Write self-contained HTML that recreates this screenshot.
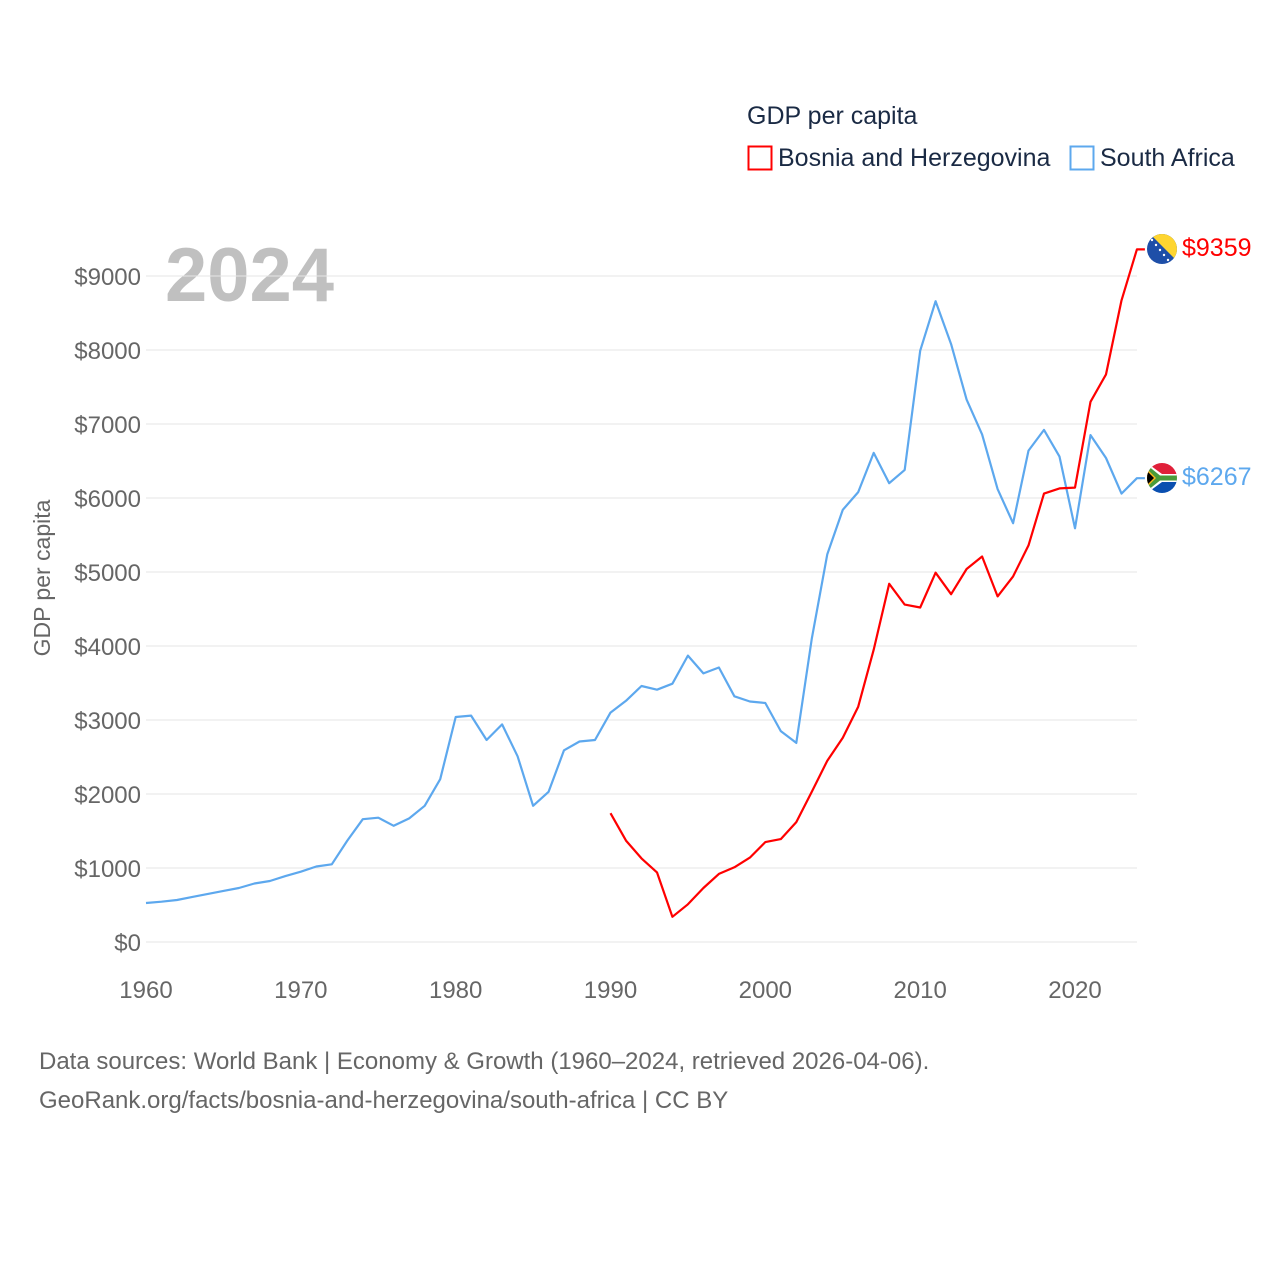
<!DOCTYPE html>
<html><head><meta charset="utf-8"><style>
body{margin:0;background:#fff;font-family:"Liberation Sans",sans-serif;}
svg text{font-family:"Liberation Sans",sans-serif;}
</style></head><body>
<svg id="chart" width="1280" height="1280" xmlns="http://www.w3.org/2000/svg">
<text x="747" y="124" font-size="25" fill="#1a2a44">GDP per capita</text>
<g><rect x="748.5" y="146.5" width="23" height="23" fill="none" stroke="#ff0000" stroke-width="2"/><text x="778" y="166" font-size="25" fill="#1a2a44">Bosnia and Herzegovina</text></g>
<g><rect x="1070.5" y="146.5" width="23" height="23" fill="none" stroke="#5da8ee" stroke-width="2"/><text x="1100" y="166" font-size="25" fill="#1a2a44">South Africa</text></g>
<text x="165" y="301" font-size="76" font-weight="bold" fill="#c0c0c0">2024</text>
<g id="grid"></g><g id="yticks"></g><g id="xticks"></g><g id="lines"></g>
<text transform="translate(50,578) rotate(-90)" text-anchor="middle" font-size="23" fill="#666">GDP per capita</text>
<g>
<clipPath id="cb"><circle cx="1162" cy="249" r="15"/></clipPath>
<g clip-path="url(#cb)"><rect x="1147" y="234" width="30" height="30" fill="#1e4fa8"/><polygon points="1150,234 1177,234 1177,261" fill="#fed530"/>
<circle cx="1152" cy="240" r="1.2" fill="#fff"/><circle cx="1156" cy="245" r="1.2" fill="#fff"/><circle cx="1160" cy="250" r="1.2" fill="#fff"/><circle cx="1164" cy="255" r="1.2" fill="#fff"/><circle cx="1168" cy="260" r="1.2" fill="#fff"/></g></g>
<text x="1182" y="256" font-size="25" fill="#ff0000">$9359</text>
<g>
<clipPath id="cs"><circle cx="1162" cy="478" r="15"/></clipPath>
<g clip-path="url(#cs)"><rect x="1147" y="463" width="30" height="15" fill="#e0203a"/><rect x="1147" y="478" width="30" height="15" fill="#0a4fb0"/>
<polygon points="1147,463 1162,474 1177,474 1177,482 1162,482 1147,493" fill="#fff"/><polygon points="1147,465 1160,475.5 1177,475.5 1177,480.5 1160,480.5 1147,491" fill="#4a9b3a"/>
<polygon points="1147,469 1156,478 1147,487" fill="#ffb81c"/><polygon points="1147,471 1154,478 1147,485" fill="#000"/></g></g>
<text x="1182" y="485" font-size="25" fill="#5da8ee">$6267</text>
<text x="39" y="1069" font-size="24" fill="#666">Data sources: World Bank | Economy &amp; Growth (1960–2024, retrieved 2026-04-06).</text>
<text x="39" y="1108" font-size="24" fill="#666">GeoRank.org/facts/bosnia-and-herzegovina/south-africa | CC BY</text>
</svg>
<script>
const years=[];for(let y=1960;y<=2024;y++)years.push(y);
const southAfrica=[527,545,567,610,650,690,730,790,825,890,950,1020,1050,1370,1660,1680,1570,1670,1840,2200,3040,3060,2730,2940,2510,1840,2030,2590,2710,2730,3100,3260,3460,3410,3490,3870,3630,3710,3320,3250,3230,2850,2690,4100,5240,5840,6080,6610,6200,6380,7990,8660,8080,7330,6860,6120,5660,6640,6920,6560,5590,6850,6540,6060,6267];
const bosniaYears=[];for(let y=1990;y<=2024;y++)bosniaYears.push(y);
const bosnia=[1740,1370,1130,940,340,510,730,920,1010,1140,1350,1390,1620,2030,2450,2760,3180,3950,4840,4560,4520,4990,4700,5040,5210,4670,4940,5360,6060,6130,6140,7300,7670,8670,9359];
const yTicks=[0,1000,2000,3000,4000,5000,6000,7000,8000,9000];
const xTicks=[1960,1970,1980,1990,2000,2010,2020];
const NS="http://www.w3.org/2000/svg";
const X=y=>146+(y-1960)*(1075-146)/60;
const Y=v=>942-v*(942-276)/9000;
function mk(tag,attrs,parent){const e=document.createElementNS(NS,tag);for(const k in attrs)e.setAttribute(k,attrs[k]);document.getElementById(parent).appendChild(e);return e;}
yTicks.forEach(t=>{
 const l=mk('line',{x1:146,x2:1137,y1:Y(t),y2:Y(t),stroke:'#e6e6e6','stroke-width':1},'grid');
 
 
 const tx=mk('text',{x:141,y:Y(t)+9,'text-anchor':'end','font-size':24,fill:'#666'},'yticks');
 tx.textContent='$'+t;
 
 
});
xTicks.forEach(t=>{
 const tx=mk('text',{x:X(t),y:998,'text-anchor':'middle','font-size':24,fill:'#666'},'xticks');
 tx.textContent=t;
 
 
});
function line(xs,vs,color,name){
 const pts=xs.map((y,i)=>X(y).toFixed(1)+','+Y(vs[i]).toFixed(1));
 pts.push((X(xs[xs.length-1])+8).toFixed(1)+','+Y(vs[vs.length-1]).toFixed(1));
 const p=mk('polyline',{points:pts.join(' '),fill:'none',stroke:color,'stroke-width':2.2,'stroke-linejoin':'round'},'lines');
 
 
}
line(years,southAfrica,'#5da8ee','line-south-africa');
line(bosniaYears,bosnia,'#ff0000','line-bosnia');
</script>
</body></html>
